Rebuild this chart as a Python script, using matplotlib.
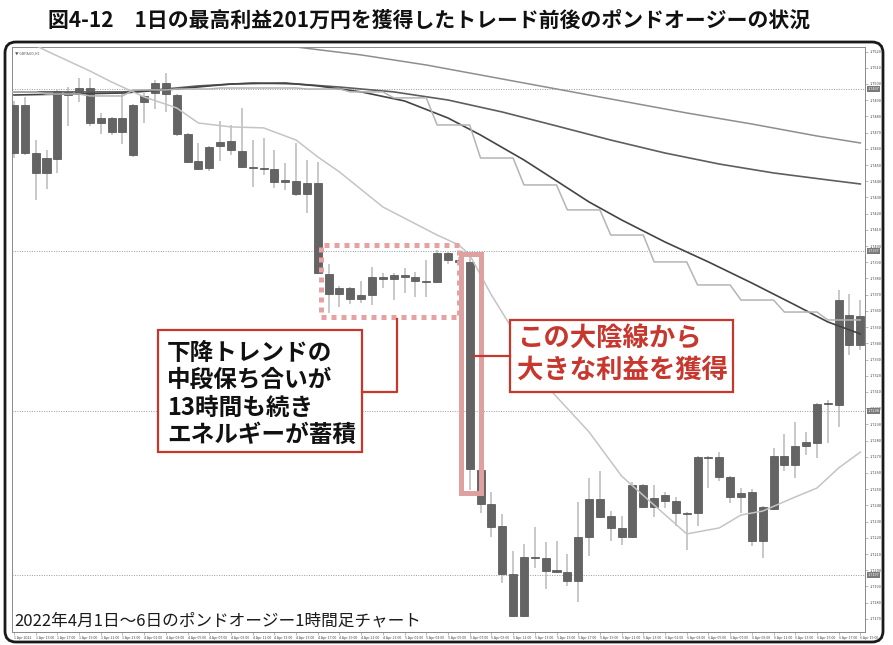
import matplotlib
matplotlib.use('Agg')
import matplotlib.pyplot as plt
from matplotlib.patches import Rectangle, FancyBboxPatch
from matplotlib.lines import Line2D
import numpy as np

plt.rcParams['font.family'] = ['Noto Sans CJK JP', 'DejaVu Sans']

W, H = 893, 645

title = "図4-12　1日の最高利益201万円を獲得したトレード前後のポンドオージーの状況"
caption = "2022年4月1日～6日のポンドオージー1時間足チャート"
note_left = "下降トレンドの\n中段保ち合いが\n13時間も続き\nエネルギーが蓄積"
note_right = "この大陰線から\n大きな利益を獲得"
symbol_label = "▼ GBPAUD,H1"

opens = [1.74574, 1.74870, 1.74574, 1.74451, 1.74537, 1.74951, 1.74938, 1.74975, 1.74759, 1.74790,
         1.74704, 1.74562, 1.74889, 1.74944, 1.75006, 1.74932, 1.74692, 1.74525, 1.74482, 1.74617,
         1.74648, 1.74587, 1.74488, 1.74482, 1.74476, 1.74395, 1.74402, 1.74321, 1.74389, 1.73828,
         1.73704, 1.73741, 1.73673, 1.73698, 1.73809, 1.73797, 1.73822, 1.73809, 1.73785, 1.73778,
         1.73957, 1.73914, 1.73902, 1.72618, 1.72409, 1.72273, 1.71977, 1.71718, 1.72082, 1.72075,
         1.72001, 1.71989, 1.71934, 1.72205, 1.72439, 1.72335, 1.72261, 1.72205, 1.72526, 1.72390,
         1.72464, 1.72427, 1.72353, 1.72353, 1.72699, 1.72699, 1.72575, 1.72452, 1.72483, 1.72180,
         1.72378, 1.72705, 1.72649, 1.72766, 1.72785, 1.73026, 1.73019, 1.73575, 1.73390]
highs = [1.74895, 1.74920, 1.74654, 1.74593, 1.74963, 1.74981, 1.75037, 1.75037, 1.74821, 1.74796,
         1.74944, 1.74877, 1.74944, 1.75025, 1.75068, 1.74938, 1.74698, 1.74636, 1.74617, 1.74772,
         1.74747, 1.74852, 1.74654, 1.74667, 1.74593, 1.74513, 1.74636, 1.74531, 1.74519, 1.73889,
         1.73754, 1.73747, 1.73785, 1.73871, 1.73834, 1.73834, 1.73865, 1.73840, 1.73914, 1.73976,
         1.73963, 1.73933, 1.73939, 1.72692, 1.72483, 1.72347, 1.72119, 1.72162, 1.72267, 1.72174,
         1.72180, 1.72100, 1.72421, 1.72569, 1.72612, 1.72365, 1.72335, 1.72544, 1.72532, 1.72526,
         1.72483, 1.72452, 1.72359, 1.72705, 1.72705, 1.72729, 1.72581, 1.72507, 1.72501, 1.72396,
         1.72754, 1.72841, 1.72915, 1.72853, 1.73032, 1.73050, 1.73729, 1.73704, 1.73667]
lows = [1.74543, 1.74562, 1.74284, 1.74352, 1.74451, 1.74741, 1.74889, 1.74741, 1.74692, 1.74685,
        1.74630, 1.74550, 1.74759, 1.74846, 1.74827, 1.74679, 1.74513, 1.74469, 1.74463, 1.74525,
        1.74562, 1.74482, 1.74364, 1.74439, 1.74358, 1.74346, 1.74309, 1.74204, 1.73828, 1.73587,
        1.73624, 1.73643, 1.73649, 1.73636, 1.73741, 1.73667, 1.73710, 1.73686, 1.73686, 1.73772,
        1.73889, 1.73896, 1.72495, 1.72353, 1.72205, 1.71921, 1.71711, 1.71711, 1.72014, 1.71884,
        1.71983, 1.71903, 1.71804, 1.72088, 1.72322, 1.72180, 1.72156, 1.72199, 1.72384, 1.72328,
        1.72384, 1.72273, 1.72125, 1.72273, 1.72507, 1.72551, 1.72415, 1.72353, 1.72150, 1.72075,
        1.72372, 1.72612, 1.72569, 1.72711, 1.72692, 1.72785, 1.72884, 1.73328, 1.73359]
closes = [1.74870, 1.74574, 1.74451, 1.74543, 1.74957, 1.74932, 1.74975, 1.74759, 1.74790, 1.74704,
          1.74790, 1.74870, 1.74926, 1.75006, 1.74938, 1.74692, 1.74519, 1.74476, 1.74611, 1.74642,
          1.74593, 1.74488, 1.74482, 1.74476, 1.74395, 1.74408, 1.74321, 1.74389, 1.73834, 1.73704,
          1.73741, 1.73673, 1.73698, 1.73809, 1.73797, 1.73822, 1.73809, 1.73785, 1.73778, 1.73957,
          1.73914, 1.73902, 1.72625, 1.72409, 1.72267, 1.71977, 1.71718, 1.72082, 1.72075, 1.71995,
          1.71989, 1.71934, 1.72205, 1.72439, 1.72328, 1.72261, 1.72205, 1.72526, 1.72390, 1.72446,
          1.72427, 1.72353, 1.72347, 1.72699, 1.72692, 1.72575, 1.72452, 1.72477, 1.72180, 1.72390,
          1.72705, 1.72649, 1.72766, 1.72791, 1.73026, 1.73032, 1.73667, 1.73390, 1.73569]

# moving averages read at selected bars
ma_fast_idx = [1, 3, 5, 7, 9, 12, 15, 17, 20, 23, 26, 28, 30, 34, 39, 41, 42, 44, 46, 49, 53, 56, 59, 62, 65, 67, 69, 72, 74, 76, 78]
ma_fast_val = [1.75271, 1.75204, 1.75142, 1.75080, 1.75012, 1.74920, 1.74852, 1.74759, 1.74735, 1.74729, 1.74654,
               1.74550, 1.74457, 1.74241, 1.74068, 1.74007, 1.73945, 1.73698, 1.73482, 1.73143, 1.72853,
               1.72581, 1.72402, 1.72224, 1.72261, 1.72341, 1.72365, 1.72452, 1.72507, 1.72631, 1.72729]
ma_mid_idx = [0, 5, 10, 15, 20, 25, 28, 32, 36, 40, 43, 47, 50, 53, 56, 60, 64, 68, 72, 75, 78]
ma_mid_val = [1.74932, 1.74938, 1.74944, 1.74969, 1.75000, 1.75006, 1.74988, 1.74951, 1.74895, 1.74790, 1.74685,
              1.74531, 1.74402, 1.74272, 1.74161, 1.74025, 1.73902, 1.73772, 1.73636, 1.73532, 1.73458]
ma_slow_idx = [0, 5, 10, 13, 17, 22, 26, 30, 35, 40, 45, 50, 55, 60, 65, 70, 75, 78]
ma_slow_val = [1.74951, 1.74951, 1.74951, 1.74963, 1.74988, 1.75006, 1.75000, 1.74981, 1.74951, 1.74901, 1.74827,
               1.74741, 1.74654, 1.74574, 1.74506, 1.74451, 1.74408, 1.74383]
ma_long_idx = [24, 26, 32, 38, 44, 50, 56, 62, 68, 74, 78]
ma_long_val = [1.75271, 1.75228, 1.75179, 1.75117, 1.75043, 1.74969, 1.74895, 1.74821, 1.74753, 1.74679, 1.74636]
# 4-hour moving average shown as steps (first bar of each 4H block)
ma_h4_start = [-1, 3, 7, 11, 15, 19, 23, 27, 31, 35, 39, 43, 47, 51, 55, 59, 63, 67, 71, 75]
ma_h4_val = [1.74951, 1.74938, 1.74926, 1.74963, 1.74969, 1.74975, 1.74975, 1.74969, 1.74951, 1.74914, 1.74747,
             1.74543, 1.74377, 1.74223, 1.74068, 1.73902, 1.73760, 1.73667, 1.73593, 1.73544]

h_levels = [1.7497, 1.7397, 1.7298, 1.7197]

time_labels = ["1 Apr 2022", "1 Apr 15:00", "1 Apr 17:00", "1 Apr 19:00", "1 Apr 21:00", "1 Apr 23:00",
               "4 Apr 01:00", "4 Apr 03:00", "4 Apr 05:00", "4 Apr 07:00", "4 Apr 09:00", "4 Apr 11:00",
               "4 Apr 13:00", "4 Apr 15:00", "4 Apr 17:00", "4 Apr 19:00", "4 Apr 21:00", "4 Apr 23:00",
               "5 Apr 01:00", "5 Apr 03:00", "5 Apr 05:00", "5 Apr 07:00", "5 Apr 09:00", "5 Apr 11:00",
               "5 Apr 13:00", "5 Apr 15:00", "5 Apr 17:00", "5 Apr 19:00", "5 Apr 21:00", "5 Apr 23:00",
               "6 Apr 01:00", "6 Apr 03:00", "6 Apr 05:00", "6 Apr 07:00", "6 Apr 09:00", "6 Apr 11:00",
               "6 Apr 13:00", "6 Apr 15:00", "6 Apr 17:00", "6 Apr 19:00"]

RED = '#c8372d'


def fx(x):
    return x / W


def fy(y):
    return 1 - y / H


fig = plt.figure(figsize=(W / 100, H / 100), dpi=100)
fig.patch.set_facecolor('white')

# rounded outer frame
frame = FancyBboxPatch((fx(5), fy(642)), fx(883) - fx(5), fy(42) - fy(642),
                       boxstyle="round,pad=0,rounding_size=%f" % (11 / W),
                       mutation_aspect=W / H, transform=fig.transFigure,
                       fill=False, ec='#1a1a1a', lw=2.0)
fig.add_artist(frame)

ax = fig.add_axes([fx(12), fy(632), fx(865) - fx(12), fy(47) - fy(632)])
ax.set_xlim(-0.18, 78.43)
ax.set_ylim(1.71619, 1.75228)
for s in ax.spines.values():
    s.set_color('#8a8a8a')
    s.set_linewidth(0.7)

n = len(opens)
x = np.arange(n)

# horizontal level lines
for lv in h_levels:
    ax.axhline(lv, color='#9a9a9a', lw=0.7, ls=(0, (1, 1.5)), zorder=1)
    ax.text(1.003, lv, "%.4f" % lv, transform=ax.get_yaxis_transform(), fontsize=2.8,
            color='white', va='center', ha='left', clip_on=False,
            bbox=dict(boxstyle='square,pad=0.25', fc='#7a7a7a', ec='none'), zorder=6)

# candles
ax.vlines(x, lows, highs, color='#b9b9b9', lw=1.1, zorder=2)
for i in range(n):
    lo = min(opens[i], closes[i])
    hi = max(opens[i], closes[i])
    h = max(hi - lo, 0.00003)
    ax.add_patch(Rectangle((i - 0.37, lo), 0.74, h, fc='#646464', ec='#4d4d4d', lw=0.5, zorder=3))

# moving averages
ax.plot(ma_long_idx, ma_long_val, color='#8e8e8e', lw=1.1, zorder=4)
ax.plot(ma_slow_idx, ma_slow_val, color='#5e5e5e', lw=1.2, zorder=4)
ax.plot(ma_mid_idx, ma_mid_val, color='#444444', lw=1.2, zorder=4)
ax.plot(ma_fast_idx, ma_fast_val, color='#c4c4c4', lw=1.1, zorder=4)
sx, sy = [], []
for s0, v in zip(ma_h4_start, ma_h4_val):
    sx += [s0, s0 + 3]
    sy += [v, v]
ax.plot(sx, sy, color='#b4b4b4', lw=1.1, zorder=4)

# axis ticks
ax.yaxis.tick_right()
yt = np.arange(1.717, 1.7525, 0.001)
ax.set_yticks(yt)
ax.set_yticklabels(["%.4f" % v for v in yt], fontsize=2.8, color='#444')
ax.set_xticks(np.arange(0, n, 2))
ax.set_xticklabels(time_labels, fontsize=2.6, color='#444')
for lab in ax.get_xticklabels():
    lab.set_horizontalalignment('left')
ax.tick_params(axis='both', length=2, width=0.4, color='#888', pad=1)

ax.text(0.003, 0.992, symbol_label, transform=ax.transAxes, fontsize=2.6, color='#555',
        va='top', ha='left')

# title and caption
fig.text(fx(48), fy(20), title, fontsize=15, fontweight='bold', va='center', ha='left', color='#111')
fig.text(fx(14), fy(621), caption, fontsize=12, va='center', ha='left', color='#1a1a1a')

# annotation shapes (figure pixel coordinates)
def frect(x0, y0, x1, y1, **kw):
    r = Rectangle((fx(x0), fy(y1)), fx(x1) - fx(x0), fy(y0) - fy(y1), transform=fig.transFigure, **kw)
    fig.add_artist(r)
    return r


dotted = frect(320.5, 245.5, 459.5, 316.5, fill=False, ec='#e6a2a2', lw=3.6, ls=(0, (1, 1)))
dotted.set_capstyle('butt')
frect(460.5, 254.5, 480.5, 492.5, fill=False, ec='#dea0a0', lw=3.6)

fig.add_artist(Line2D([fx(397), fx(397), fx(362)], [fy(319), fy(392), fy(392)],
                      transform=fig.transFigure, color=RED, lw=1.6))
fig.add_artist(Line2D([fx(474), fx(510)], [fy(356), fy(356)],
                      transform=fig.transFigure, color=RED, lw=1.6))

frect(158, 330, 362, 452, fc='white', ec=RED, lw=1.6)
fig.text(fx(167), fy(394), note_left, fontsize=17, fontweight='bold', va='center', ha='left',
         color='#111', linespacing=1.18)
frect(510, 320, 733, 392, fc='white', ec=RED, lw=1.6)
fig.text(fx(517), fy(355), note_right, fontsize=19, fontweight='bold', va='center', ha='left',
         color=RED, linespacing=1.28)

fig.savefig('out.png', dpi=100)
